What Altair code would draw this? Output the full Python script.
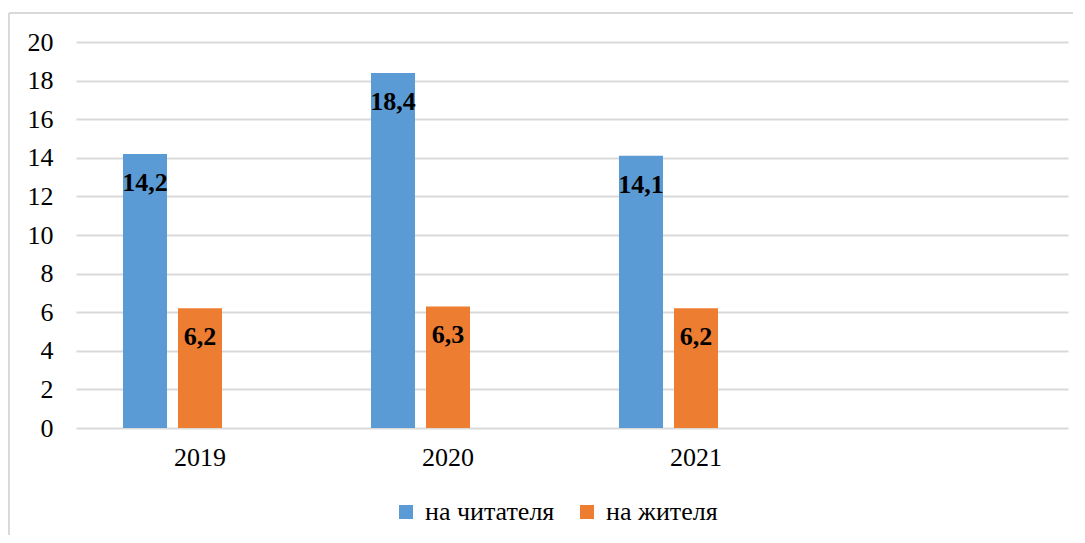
import altair as alt
import pandas as pd

years = ["2019", "2020", "2021"]
series = ["на читателя", "на жителя"]
per_reader = [14.2, 18.4, 14.1]
per_resident = [6.2, 6.3, 6.2]
colors = ["#5B9BD5", "#ED7D31"]

rows = []
for i, y in enumerate(years):
    for s, vals in zip(series, [per_reader, per_resident]):
        v = vals[i]
        rows.append({"year": y, "series": s, "value": v,
                     "label": f"{v:.1f}".replace(".", ",")})
df = pd.DataFrame(rows)

FONT = "Liberation Serif"
W, H = 992, 386

x_enc = alt.X("year:N",
              scale=alt.Scale(domain=years + [" "], paddingInner=0.379, paddingOuter=0.1895),
              axis=alt.Axis(title=None, labelAngle=0, domain=False, ticks=False,
                            labelPadding=16, labelFontSize=26, labelFont=FONT,
                            labelColor="#000000"))
xo_enc = alt.XOffset("series:N",
                     scale=alt.Scale(domain=series + ["  "], paddingInner=0.2, paddingOuter=0))
y_enc = alt.Y("value:Q",
              scale=alt.Scale(domain=[0, 20]),
              axis=alt.Axis(title=None, values=list(range(0, 21, 2)), domain=False, ticks=False,
                            labelPadding=23, labelFontSize=26, labelFont=FONT,
                            labelColor="#000000", grid=True, gridColor="#D9D9D9",
                            gridWidth=1.8))

bars = alt.Chart(df).mark_bar().encode(
    x=x_enc, xOffset=xo_enc, y=y_enc,
    color=alt.Color("series:N",
                    scale=alt.Scale(domain=series, range=colors),
                    legend=alt.Legend(title=None, orient="none", direction="horizontal",
                                      legendX=317, legendY=457,
                                      symbolType="square", symbolSize=196,
                                      symbolStrokeWidth=0, symbolOpacity=1,
                                      labelFont=FONT, labelFontSize=26,
                                      labelColor="#000000", labelOffset=6,
                                      columnPadding=19)),
)

labels = alt.Chart(df).mark_text(
    dy=29, baseline="middle", align="center", font=FONT, fontSize=26,
    fontWeight="bold", color="#000000"
).encode(x=x_enc, xOffset=xo_enc, y=y_enc, text="label:N")

frame_df = pd.DataFrame({"k": [0]})
frame_left = alt.Chart(frame_df).mark_rule(color="#D9D9D9", strokeWidth=2).encode(
    x=alt.value(-67), y=alt.value(-29), y2=alt.value(700))
frame_top = alt.Chart(frame_df).mark_rule(color="#D9D9D9", strokeWidth=2).encode(
    x=alt.value(-67), x2=alt.value(1100), y=alt.value(-29))

chart = alt.layer(frame_left, frame_top, bars, labels).properties(
    width=W, height=H,
    autosize=alt.AutoSizeParams(type="none"),
    padding={"left": 68, "top": 34, "right": 5, "bottom": 107},
    background="white",
).configure(font=FONT).configure_axis(
    labelFont=FONT
).configure_legend(labelFont=FONT).configure_text(font=FONT).configure_view(stroke=None)

chart.save("out.html", embed_options={"renderer": "svg", "actions": False})
